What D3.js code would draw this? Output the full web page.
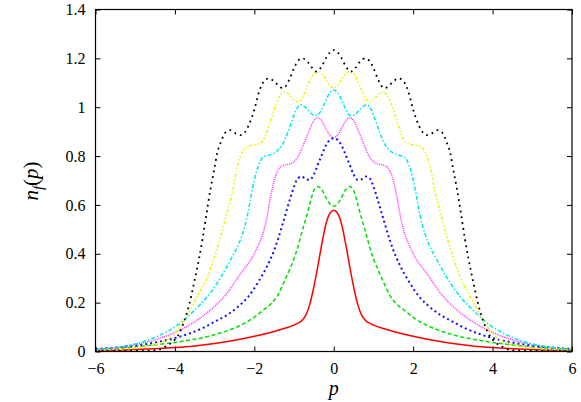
<!DOCTYPE html>
<html><head><meta charset="utf-8">
<script src="https://cdn.jsdelivr.net/npm/d3@7"></script>
<style>
body{margin:0;background:#fff;}
</style></head>
<body><svg id="c" width="581" height="402"></svg>
<script>
const xTicks=[-6,-4,-2,0,2,4,6];
const yTicks=[0,0.2,0.4,0.6,0.8,1,1.2,1.4];
const seriesRed=[[-6,0.004],[-5,0.008],[-4,0.016],[-3.5,0.023],[-3,0.033],[-2.5,0.046],[-2,0.062],[-1.5,0.082],[-1.25,0.094],[-1,0.108],[-0.9,0.116],[-0.8,0.127],[-0.7,0.15],[-0.6,0.195],[-0.5,0.265],[-0.4,0.35],[-0.3,0.44],[-0.2,0.52],[-0.1,0.565],[0,0.578],[0.1,0.565],[0.2,0.52],[0.3,0.44],[0.4,0.35],[0.5,0.265],[0.6,0.195],[0.7,0.15],[0.8,0.127],[0.9,0.116],[1,0.108],[1.25,0.094],[1.5,0.082],[2,0.062],[2.5,0.046],[3,0.033],[3.5,0.023],[4,0.016],[5,0.008],[6,0.004]];
const seriesGreen=[[-6,0.009],[-5.5,0.013],[-5,0.019],[-4.5,0.027],[-4,0.037],[-3.7,0.045],[-3.2,0.06],[-2.85,0.076],[-2.5,0.096],[-2.25,0.115],[-2,0.14],[-1.8,0.166],[-1.6,0.192],[-1.42,0.228],[-1.25,0.285],[-1.1,0.34],[-1,0.38],[-0.9,0.43],[-0.8,0.49],[-0.7,0.545],[-0.6,0.605],[-0.5,0.66],[-0.4,0.675],[-0.3,0.662],[-0.2,0.632],[-0.1,0.605],[0,0.595],[0.1,0.605],[0.2,0.632],[0.3,0.662],[0.4,0.675],[0.5,0.66],[0.6,0.605],[0.7,0.545],[0.8,0.49],[0.9,0.43],[1,0.38],[1.1,0.34],[1.25,0.285],[1.42,0.228],[1.6,0.192],[1.8,0.166],[2,0.14],[2.25,0.115],[2.5,0.096],[2.85,0.076],[3.2,0.06],[3.7,0.045],[4,0.037],[4.5,0.027],[5,0.019],[5.5,0.013],[6,0.009]];
const seriesBlue=[[-6,0.01],[-5.5,0.016],[-5,0.024],[-4.4,0.04],[-4,0.055],[-3.7,0.07],[-3.3,0.096],[-2.95,0.126],[-2.68,0.15],[-2.4,0.185],[-2.15,0.225],[-1.88,0.29],[-1.67,0.352],[-1.5,0.415],[-1.4,0.462],[-1.3,0.515],[-1.2,0.57],[-1.1,0.625],[-1,0.675],[-0.9,0.71],[-0.8,0.716],[-0.7,0.705],[-0.6,0.703],[-0.5,0.725],[-0.4,0.765],[-0.3,0.805],[-0.2,0.842],[-0.1,0.866],[0,0.873],[0.1,0.866],[0.2,0.842],[0.3,0.805],[0.4,0.765],[0.5,0.725],[0.6,0.703],[0.7,0.705],[0.8,0.716],[0.9,0.71],[1,0.675],[1.1,0.625],[1.2,0.57],[1.3,0.515],[1.4,0.462],[1.5,0.415],[1.67,0.352],[1.88,0.29],[2.15,0.225],[2.4,0.185],[2.68,0.15],[2.95,0.126],[3.3,0.096],[3.7,0.07],[4,0.055],[4.4,0.04],[5,0.024],[5.5,0.016],[6,0.01]];
const seriesMagenta=[[-6,0.008],[-5.5,0.016],[-5,0.028],[-4.4,0.053],[-4,0.078],[-3.5,0.122],[-3,0.185],[-2.68,0.24],[-2.35,0.318],[-2.2,0.35],[-2.05,0.385],[-1.92,0.428],[-1.8,0.475],[-1.7,0.535],[-1.6,0.625],[-1.5,0.7],[-1.4,0.743],[-1.3,0.76],[-1.2,0.765],[-1.1,0.768],[-1,0.777],[-0.9,0.797],[-0.8,0.832],[-0.7,0.872],[-0.6,0.912],[-0.5,0.945],[-0.4,0.957],[-0.3,0.944],[-0.2,0.914],[-0.1,0.886],[0,0.876],[0.1,0.886],[0.2,0.914],[0.3,0.944],[0.4,0.957],[0.5,0.945],[0.6,0.912],[0.7,0.872],[0.8,0.832],[0.9,0.797],[1,0.777],[1.1,0.768],[1.2,0.765],[1.3,0.76],[1.4,0.743],[1.5,0.7],[1.6,0.625],[1.7,0.535],[1.8,0.475],[1.92,0.428],[2.05,0.385],[2.2,0.35],[2.35,0.318],[2.68,0.24],[3,0.185],[3.5,0.122],[4,0.078],[4.4,0.053],[5,0.028],[5.5,0.016],[6,0.008]];
const seriesCyan=[[-6,0.008],[-5.6,0.014],[-5.2,0.024],[-4.8,0.04],[-4.36,0.068],[-3.9,0.112],[-3.5,0.17],[-3.18,0.225],[-2.84,0.305],[-2.6,0.375],[-2.42,0.43],[-2.3,0.48],[-2.17,0.56],[-2.05,0.665],[-1.95,0.735],[-1.85,0.78],[-1.75,0.798],[-1.58,0.806],[-1.42,0.822],[-1.3,0.845],[-1.16,0.895],[-1.05,0.945],[-0.95,0.988],[-0.83,1.01],[-0.72,1],[-0.62,0.984],[-0.52,0.968],[-0.42,0.966],[-0.3,0.992],[-0.2,1.028],[-0.1,1.058],[0,1.07],[0.1,1.058],[0.2,1.028],[0.3,0.992],[0.42,0.966],[0.52,0.968],[0.62,0.984],[0.72,1],[0.83,1.01],[0.95,0.988],[1.05,0.945],[1.16,0.895],[1.3,0.845],[1.42,0.822],[1.58,0.806],[1.75,0.798],[1.85,0.78],[1.95,0.735],[2.05,0.665],[2.17,0.56],[2.3,0.48],[2.42,0.43],[2.6,0.375],[2.84,0.305],[3.18,0.225],[3.5,0.17],[3.9,0.112],[4.36,0.068],[4.8,0.04],[5.2,0.024],[5.6,0.014],[6,0.008]];
const seriesYellow=[[-6,0.004],[-5.5,0.008],[-5,0.014],[-4.52,0.027],[-4.25,0.043],[-4.02,0.07],[-3.9,0.095],[-3.77,0.125],[-3.65,0.16],[-3.51,0.203],[-3.35,0.25],[-3.18,0.305],[-3,0.39],[-2.84,0.475],[-2.7,0.56],[-2.55,0.655],[-2.45,0.74],[-2.35,0.8],[-2.25,0.83],[-2.1,0.843],[-1.95,0.847],[-1.82,0.856],[-1.71,0.885],[-1.6,0.94],[-1.5,0.99],[-1.35,1.047],[-1.25,1.063],[-1.16,1.057],[-1.06,1.04],[-0.97,1.026],[-0.88,1.022],[-0.8,1.036],[-0.7,1.072],[-0.6,1.11],[-0.5,1.138],[-0.4,1.146],[-0.3,1.137],[-0.2,1.115],[-0.1,1.09],[0,1.078],[0.1,1.09],[0.2,1.115],[0.3,1.137],[0.4,1.146],[0.5,1.138],[0.6,1.11],[0.7,1.072],[0.8,1.036],[0.88,1.022],[0.97,1.026],[1.06,1.04],[1.16,1.057],[1.25,1.063],[1.35,1.047],[1.5,0.99],[1.6,0.94],[1.71,0.885],[1.82,0.856],[1.95,0.847],[2.1,0.843],[2.25,0.83],[2.35,0.8],[2.45,0.74],[2.55,0.655],[2.7,0.56],[2.84,0.475],[3,0.39],[3.18,0.305],[3.35,0.25],[3.51,0.203],[3.65,0.16],[3.77,0.125],[3.9,0.095],[4.02,0.07],[4.25,0.043],[4.52,0.027],[5,0.014],[5.5,0.008],[6,0.004]];
const seriesBlack=[[-6,0.001],[-5.5,0.002],[-4.7,0.003],[-4.45,0.006],[-4.3,0.015],[-4.1,0.034],[-3.89,0.075],[-3.77,0.122],[-3.64,0.192],[-3.51,0.287],[-3.39,0.382],[-3.3,0.465],[-3.22,0.548],[-3.1,0.668],[-3.01,0.745],[-2.93,0.815],[-2.84,0.858],[-2.72,0.898],[-2.6,0.906],[-2.46,0.892],[-2.34,0.886],[-2.24,0.897],[-2.13,0.93],[-2,0.99],[-1.88,1.063],[-1.75,1.108],[-1.63,1.118],[-1.52,1.108],[-1.4,1.09],[-1.29,1.078],[-1.2,1.088],[-1.1,1.12],[-1,1.16],[-0.9,1.19],[-0.79,1.2],[-0.67,1.188],[-0.55,1.162],[-0.43,1.146],[-0.3,1.168],[-0.2,1.2],[-0.1,1.224],[0,1.234],[0.1,1.224],[0.2,1.2],[0.3,1.168],[0.43,1.146],[0.55,1.162],[0.67,1.188],[0.79,1.2],[0.9,1.19],[1,1.16],[1.1,1.12],[1.2,1.088],[1.29,1.078],[1.4,1.09],[1.52,1.108],[1.63,1.118],[1.75,1.108],[1.88,1.063],[2,0.99],[2.13,0.93],[2.24,0.897],[2.34,0.886],[2.46,0.892],[2.6,0.906],[2.72,0.898],[2.84,0.858],[2.93,0.815],[3.01,0.745],[3.1,0.668],[3.22,0.548],[3.3,0.465],[3.39,0.382],[3.51,0.287],[3.64,0.192],[3.77,0.122],[3.89,0.075],[4.1,0.034],[4.3,0.015],[4.45,0.006],[4.7,0.003],[5.5,0.002],[6,0.001]];

const styles=[
 {d:seriesRed,c:"#ff0000",dash:null,w:1.5},
 {d:seriesGreen,c:"#00e000",dash:"4,2.5",w:1.5},
 {d:seriesBlue,c:"#1010ff",dash:"2,3",w:2},
 {d:seriesMagenta,c:"#ff30ff",dash:"1,1",w:1.5},
 {d:seriesCyan,c:"#00e8e8",dash:"4,2,1.5,2",w:1.5},
 {d:seriesYellow,c:"#f0f000",dash:"3,2,1.5,2,1.5,2",w:1.5},
 {d:seriesBlack,c:"#000000",dash:"1.8,4",w:1.8}
];

const FONT='"Liberation Serif"';
const svg=d3.select("#c");
const L=95.5,R=572,T=9.5,B=351.5;
const x=d3.scaleLinear().domain([-6,6]).range([L,R]);
const y=d3.scaleLinear().domain([0,1.4]).range([B,T]);
const fmt=d3.format("~g");

svg.append("defs").append("clipPath").attr("id","clip").append("rect")
 .attr("x",L).attr("y",T).attr("width",R-L).attr("height",B-T);

const line=d3.line().x(d=>x(d[0])).y(d=>y(d[1])).curve(d3.curveMonotoneX);
const g=svg.append("g").attr("clip-path","url(#clip)");
styles.forEach(s=>{
 g.append("path").attr("d",line(s.d)).attr("fill","none").attr("stroke",s.c)
  .attr("stroke-width",s.w).attr("stroke-dasharray",s.dash);
});

function styleAxis(a,showText){
 a.attr("font-family",null).attr("font-size",null);
 a.select(".domain").remove();
 a.selectAll(".tick line").attr("stroke","#000").attr("stroke-width",1);
 a.selectAll(".tick text").attr("fill","#000").style("font-family",FONT).style("font-size","16px");
 if(!showText) a.selectAll(".tick text").remove();
}
const ax=svg.append("g").attr("transform",`translate(0,${B})`)
 .call(d3.axisBottom(x).tickValues(xTicks).tickSize(-5).tickPadding(11).tickFormat(fmt));
styleAxis(ax,true);
const axT=svg.append("g").attr("transform",`translate(0,${T})`)
 .call(d3.axisTop(x).tickValues(xTicks).tickSize(-5));
styleAxis(axT,false);
const ay=svg.append("g").attr("transform",`translate(${L},0)`)
 .call(d3.axisLeft(y).tickValues(yTicks).tickSize(-5).tickPadding(10).tickFormat(fmt));
styleAxis(ay,true);
const ayR=svg.append("g").attr("transform",`translate(${R},0)`)
 .call(d3.axisRight(y).tickValues(yTicks).tickSize(-5));
styleAxis(ayR,false);

svg.append("rect").attr("x",L).attr("y",T).attr("width",R-L).attr("height",B-T)
 .attr("fill","none").attr("stroke","#000").attr("stroke-width",1.2);

svg.append("text").attr("x",x(0)).attr("y",395).attr("text-anchor","middle")
 .style("font-family",FONT).style("font-size","20px").style("font-style","italic").text("p");
const yl=svg.append("text").attr("transform","translate(38,181) rotate(-90)")
 .attr("text-anchor","middle").style("font-family",FONT).style("font-size","21px").style("font-style","italic");
yl.append("tspan").text("n");
yl.append("tspan").attr("dy",5).style("font-size","15px").text("f");
yl.append("tspan").attr("dy",-5).style("font-style","normal").text("(");
yl.append("tspan").text("p");
yl.append("tspan").style("font-style","normal").text(")");
</script></body></html>
